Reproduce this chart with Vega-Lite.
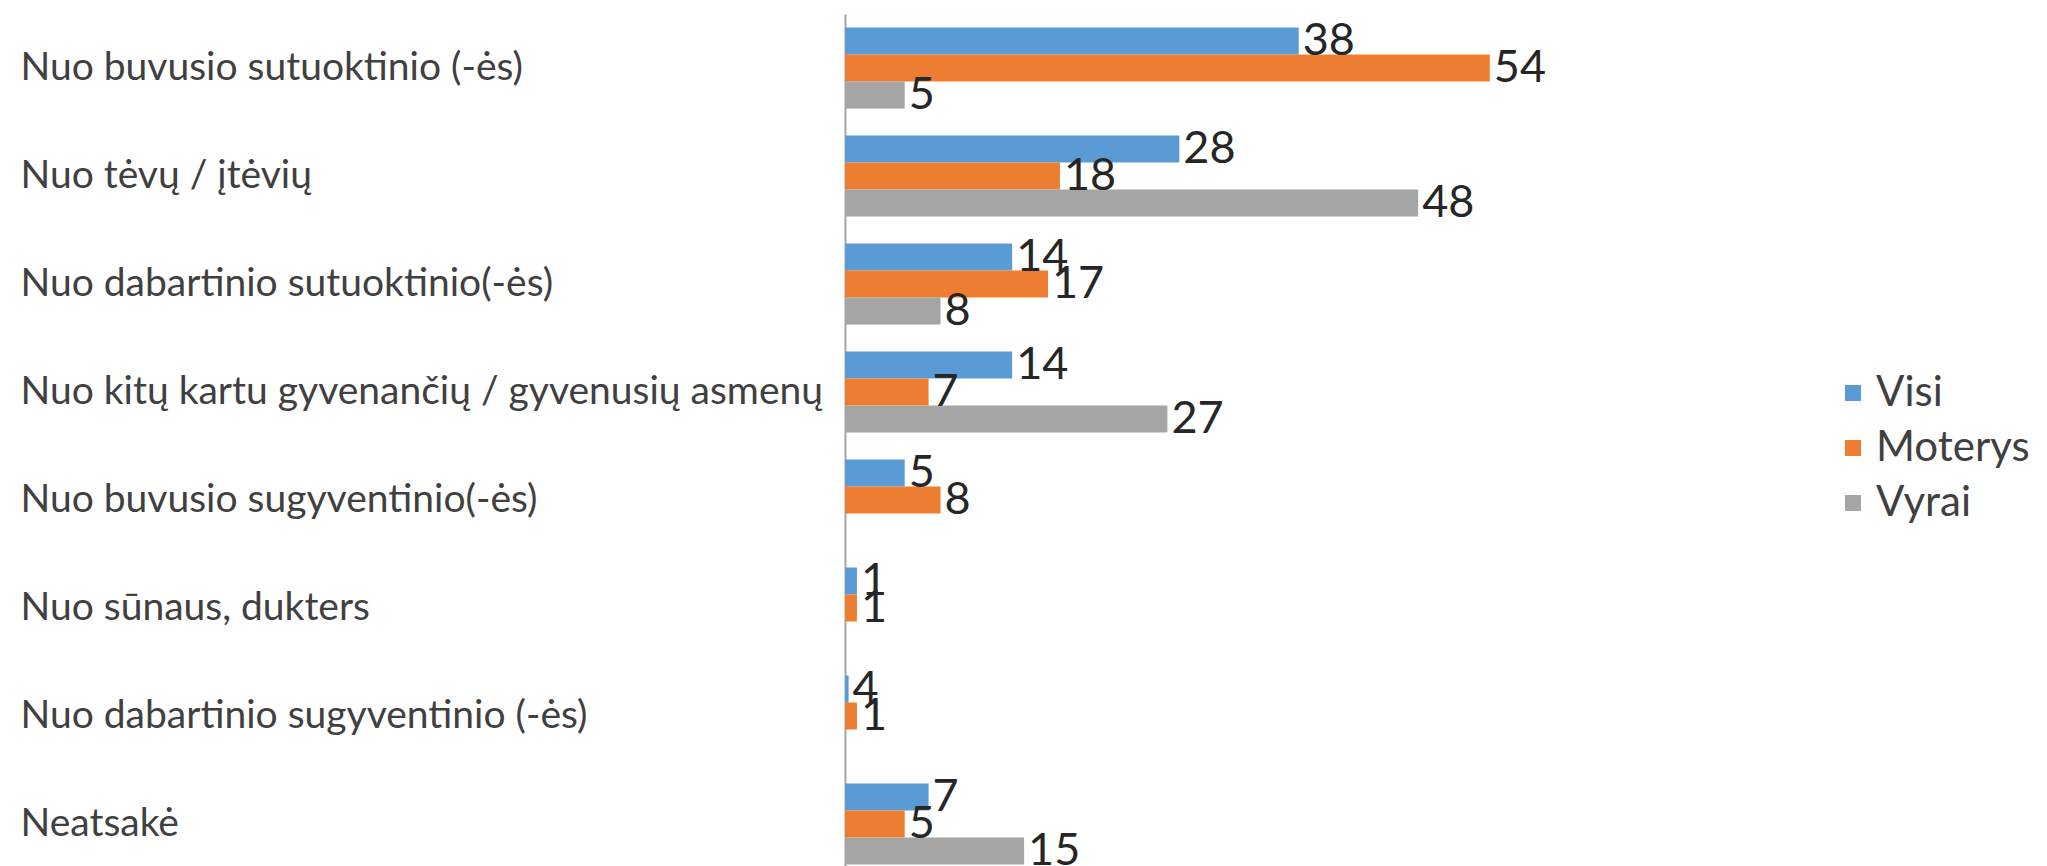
{
  "$schema": "https://vega.github.io/schema/vega-lite/v6.json",
  "autosize": "none",
  "padding": {"left": 845, "top": 14, "right": 0, "bottom": 0},
  "width": 1200,
  "height": 864,
  "background": "white",
  "config": {
    "view": {"stroke": null},
    "font": "Lato"
  },
  "data": {
    "values": [
      {"cat": "Nuo buvusio sutuoktinio (-ės)", "series": "Visi", "value": 38, "label": "38"},
      {"cat": "Nuo buvusio sutuoktinio (-ės)", "series": "Moterys", "value": 54, "label": "54"},
      {"cat": "Nuo buvusio sutuoktinio (-ės)", "series": "Vyrai", "value": 5, "label": "5"},
      {"cat": "Nuo tėvų / įtėvių", "series": "Visi", "value": 28, "label": "28"},
      {"cat": "Nuo tėvų / įtėvių", "series": "Moterys", "value": 18, "label": "18"},
      {"cat": "Nuo tėvų / įtėvių", "series": "Vyrai", "value": 48, "label": "48"},
      {"cat": "Nuo dabartinio sutuoktinio(-ės)", "series": "Visi", "value": 14, "label": "14"},
      {"cat": "Nuo dabartinio sutuoktinio(-ės)", "series": "Moterys", "value": 17, "label": "17"},
      {"cat": "Nuo dabartinio sutuoktinio(-ės)", "series": "Vyrai", "value": 8, "label": "8"},
      {"cat": "Nuo kitų kartu gyvenančių / gyvenusių asmenų", "series": "Visi", "value": 14, "label": "14"},
      {"cat": "Nuo kitų kartu gyvenančių / gyvenusių asmenų", "series": "Moterys", "value": 7, "label": "7"},
      {"cat": "Nuo kitų kartu gyvenančių / gyvenusių asmenų", "series": "Vyrai", "value": 27, "label": "27"},
      {"cat": "Nuo buvusio sugyventinio(-ės)", "series": "Visi", "value": 5, "label": "5"},
      {"cat": "Nuo buvusio sugyventinio(-ės)", "series": "Moterys", "value": 8, "label": "8"},
      {"cat": "Nuo sūnaus, dukters", "series": "Visi", "value": 1, "label": "1"},
      {"cat": "Nuo sūnaus, dukters", "series": "Moterys", "value": 1, "label": "1"},
      {"cat": "Nuo dabartinio sugyventinio (-ės)", "series": "Visi", "value": 0.3, "label": "4"},
      {"cat": "Nuo dabartinio sugyventinio (-ės)", "series": "Moterys", "value": 1, "label": "1"},
      {"cat": "Neatsakė", "series": "Visi", "value": 7, "label": "7"},
      {"cat": "Neatsakė", "series": "Moterys", "value": 5, "label": "5"},
      {"cat": "Neatsakė", "series": "Vyrai", "value": 15, "label": "15"}
    ]
  },
  "encoding": {
    "y": {
      "field": "cat", "type": "nominal", "sort": null,
      "scale": {"paddingInner": 0.25, "paddingOuter": 0.125},
      "axis": {
        "title": null, "ticks": false, "domain": true, "domainColor": "#a6a6a6", "domainWidth": 2,
        "labelAlign": "left", "labelPadding": 825, "labelFontSize": 39, "labelColor": "#404040",
        "labelLimit": 900, "labelFont": "Lato"
      }
    },
    "yOffset": {"field": "series", "type": "nominal", "sort": ["Visi", "Moterys", "Vyrai"], "scale": {"paddingInner": 0, "paddingOuter": 0}},
    "x": {"field": "value", "type": "quantitative", "scale": {"domain": [0, 100.5], "nice": false}, "axis": null}
  },
  "layer": [
    {
      "mark": {"type": "bar"},
      "encoding": {
        "color": {
          "field": "series", "type": "nominal",
          "scale": {"domain": ["Visi", "Moterys", "Vyrai"], "range": ["#5B9BD5", "#ED7D31", "#A5A5A5"]},
          "legend": {
            "title": null, "orient": "none", "legendX": 987, "legendY": 358, "padding": 0,
            "symbolType": "square", "symbolSize": 256, "symbolStrokeWidth": 0,
            "labelFontSize": 42, "labelColor": "#404040", "labelFont": "Lato",
            "rowPadding": 13, "labelOffset": 2, "labelLimit": 400
          }
        }
      }
    },
    {
      "mark": {"type": "text", "align": "left", "baseline": "middle", "dx": 4, "fontSize": 45, "color": "#262626", "font": "Lato"},
      "encoding": {"text": {"field": "label"}}
    }
  ]
}
